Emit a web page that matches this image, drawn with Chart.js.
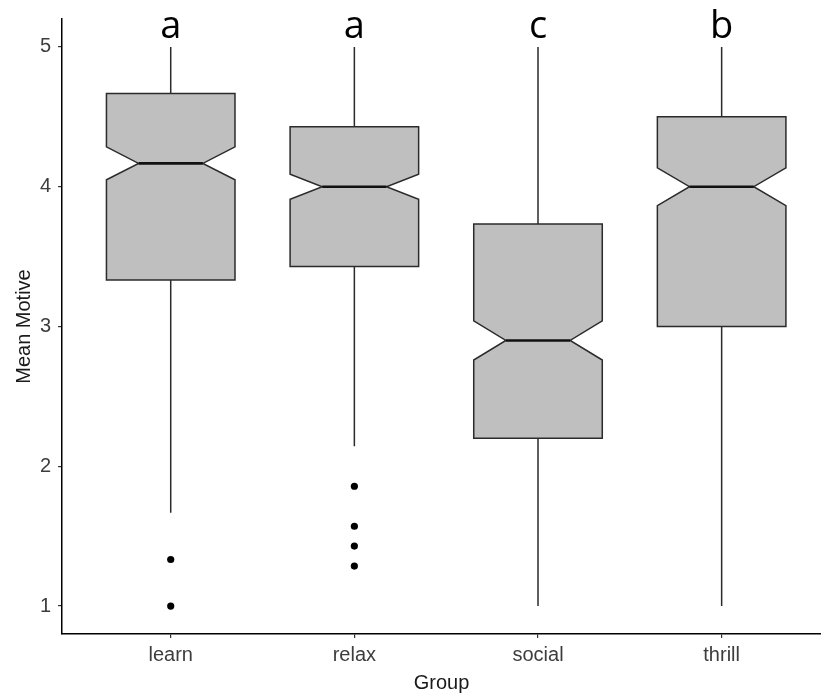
<!DOCTYPE html>
<html>
<head>
<meta charset="utf-8">
<script src="https://cdn.jsdelivr.net/npm/chart.js@4/dist/chart.umd.min.js"></script>
<style>
  html, body { margin: 0; padding: 0; background: #ffffff; overflow: hidden; }
  canvas { display: block; }
</style>
</head>
<body>
<canvas id="chart" width="821" height="696"></canvas>
<script>
// Motive groups and their box-plot summaries (Mean Motive scale 1-5)
const groups = ['learn', 'relax', 'social', 'thrill'];
const lowerWhisker = [1.667, 2.143, 1.0, 1.0];
const q1 = [3.333, 3.429, 2.2, 3.0];
const median = [4.167, 4.0, 2.9, 4.0];
const q3 = [4.667, 4.429, 3.733, 4.5];
const upperWhisker = [5.0, 5.0, 5.0, 5.0];
const notchLow = [4.05, 3.91, 2.76, 3.865];
const notchHigh = [4.285, 4.09, 3.04, 4.135];
const outliers = [[1.333, 1.0], [1.857, 1.571, 1.429, 1.286], [], []];
const letters = ['a', 'a', 'c', 'b'];
const yTicks = [1, 2, 3, 4, 5];

const outlierPoints = [];
outliers.forEach((vals, i) => vals.forEach(v => outlierPoints.push({ x: i, y: v })));

const BOX_WIDTH = 0.7;     // in category units
const NOTCH_RATIO = 0.5;   // notch width relative to box width

// Draws the notched boxes, whiskers and medians under the outlier points
const notchedBoxes = {
  id: 'notchedBoxes',
  beforeDatasetsDraw(chart) {
    const { ctx, scales: { x, y } } = chart;
    ctx.save();
    groups.forEach((g, i) => {
      const cx = x.getPixelForValue(i);
      const hw = x.getPixelForValue(i + BOX_WIDTH / 2) - cx;
      const nw = hw * NOTCH_RATIO;
      const yQ1 = y.getPixelForValue(q1[i]);
      const yQ3 = y.getPixelForValue(q3[i]);
      const yMed = y.getPixelForValue(median[i]);
      const yNl = y.getPixelForValue(notchLow[i]);
      const yNh = y.getPixelForValue(notchHigh[i]);
      const yLo = y.getPixelForValue(lowerWhisker[i]);
      const yHi = y.getPixelForValue(upperWhisker[i]);

      // whiskers
      ctx.strokeStyle = '#2b2b2b';
      ctx.lineWidth = 1.5;
      ctx.beginPath();
      ctx.moveTo(cx, yQ3); ctx.lineTo(cx, yHi);
      ctx.moveTo(cx, yQ1); ctx.lineTo(cx, yLo);
      ctx.stroke();

      // notched box
      ctx.beginPath();
      ctx.moveTo(cx - hw, yQ3);
      ctx.lineTo(cx + hw, yQ3);
      ctx.lineTo(cx + hw, yNh);
      ctx.lineTo(cx + nw, yMed);
      ctx.lineTo(cx + hw, yNl);
      ctx.lineTo(cx + hw, yQ1);
      ctx.lineTo(cx - hw, yQ1);
      ctx.lineTo(cx - hw, yNl);
      ctx.lineTo(cx - nw, yMed);
      ctx.lineTo(cx - hw, yNh);
      ctx.closePath();
      ctx.fillStyle = '#bfbfbf';
      ctx.fill();
      ctx.lineJoin = 'miter';
      ctx.stroke();

      // median
      ctx.strokeStyle = '#111111';
      ctx.lineWidth = 2.6;
      ctx.beginPath();
      ctx.moveTo(cx - nw, yMed);
      ctx.lineTo(cx + nw, yMed);
      ctx.stroke();
    });
    ctx.restore();
  },
  afterDraw(chart) {
    // significance letters above each group
    const { ctx, scales: { x, y } } = chart;
    ctx.save();
    ctx.font = '38px "Open Sans", "Noto Sans", sans-serif';
    ctx.fillStyle = '#000000';
    ctx.textAlign = 'center';
    ctx.textBaseline = 'alphabetic';
    const base = y.getPixelForValue(5.066);
    letters.forEach((t, i) => ctx.fillText(t, x.getPixelForValue(i), base));
    ctx.restore();
  }
};

new Chart(document.getElementById('chart'), {
  type: 'scatter',
  data: {
    datasets: [{
      data: outlierPoints,
      pointRadius: 3.6,
      pointHoverRadius: 3.6,
      pointBackgroundColor: '#000000',
      pointBorderColor: '#000000',
      pointBorderWidth: 0
    }]
  },
  plugins: [notchedBoxes],
  options: {
    responsive: false,
    animation: false,
    devicePixelRatio: 1,
    layout: { autoPadding: false, padding: { top: 17, left: 0, right: 0, bottom: 0 } },
    plugins: { legend: { display: false }, tooltip: { enabled: false } },
    scales: {
      x: {
        type: 'linear',
        min: -0.592,
        max: 3.541,
        afterBuildTicks: s => { s.ticks = groups.map((g, i) => ({ value: i })); },
        afterFit: s => { s.height = 62; },
        ticks: {
          callback: v => groups[v],
          color: '#3d3d3d',
          font: { family: '"Liberation Sans", Arial, sans-serif', size: 20 },
          padding: 5,
          maxRotation: 0,
          autoSkip: false
        },
        grid: { drawOnChartArea: false, tickLength: 4, color: '#333333', lineWidth: 1.2 },
        border: { color: '#000000', width: 1.5 },
        title: {
          display: true,
          text: 'Group',
          color: '#1a1a1a',
          font: { family: '"Liberation Sans", Arial, sans-serif', size: 20 },
          padding: { top: 0, bottom: 1 }
        }
      },
      y: {
        type: 'linear',
        min: 0.8,
        max: 5.2,
        afterBuildTicks: s => { s.ticks = yTicks.map(v => ({ value: v })); },
        afterFit: s => { s.width = 62; },
        ticks: {
          color: '#3d3d3d',
          font: { family: '"Liberation Sans", Arial, sans-serif', size: 20 },
          padding: 7
        },
        grid: { drawOnChartArea: false, tickLength: 4, color: '#333333', lineWidth: 1.2 },
        border: { color: '#000000', width: 1.5 },
        title: {
          display: true,
          text: 'Mean Motive',
          color: '#1a1a1a',
          font: { family: '"Liberation Sans", Arial, sans-serif', size: 20 },
          padding: { top: 12, bottom: 0 }
        }
      }
    }
  }
});
</script>
</body>
</html>
